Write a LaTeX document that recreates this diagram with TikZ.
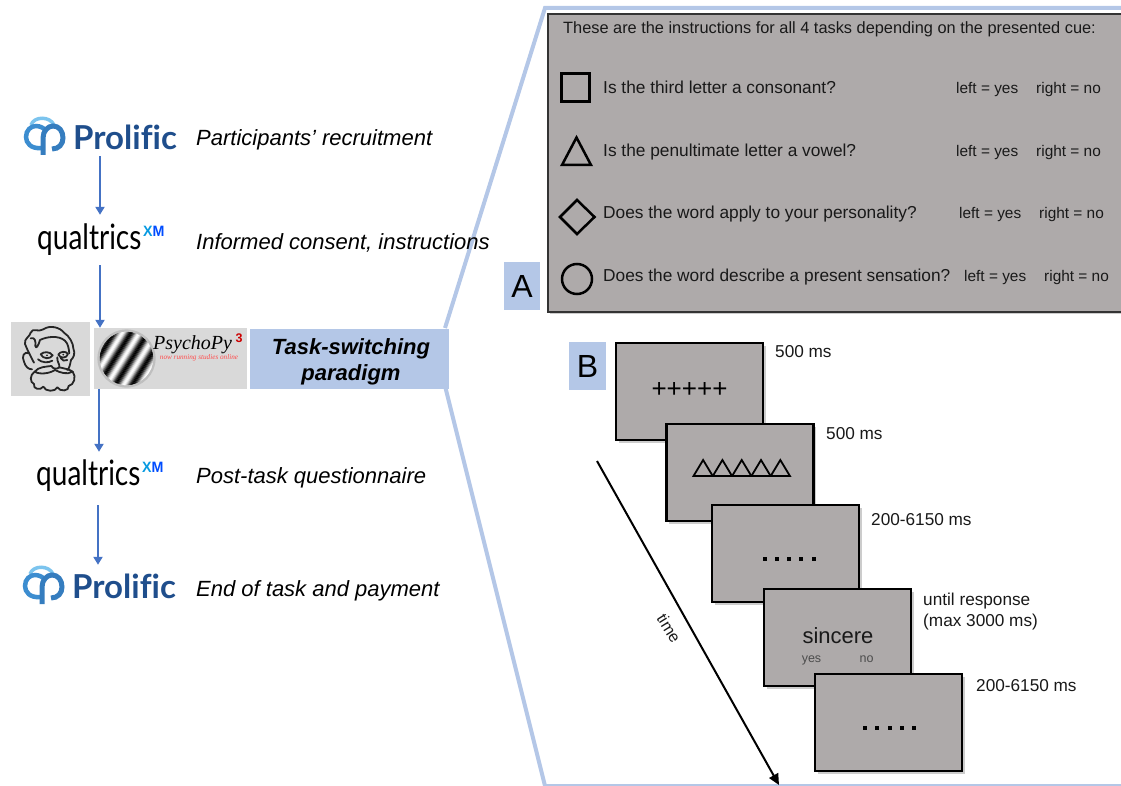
\documentclass[tikz,border=0pt]{standalone}
\usepackage{fontspec}
\usepackage{graphicx}
\setmainfont{Liberation Sans}
\newfontfamily\logofont{Lato}
\newfontfamily\pyfont{Liberation Serif}
\usetikzlibrary{arrows.meta,shadows}
\definecolor{panelgray}{HTML}{AEAAAA}
\definecolor{lightblue}{HTML}{B4C7E7}
\definecolor{flowblue}{HTML}{4472C4}
\definecolor{boxgray}{HTML}{D9D9D9}
\definecolor{prolificblue}{HTML}{1F4E8C}
\definecolor{prolificmid}{HTML}{3C8DD0}
\definecolor{prolificlight}{HTML}{7CC4EE}
\newcommand{\fsz}[1]{\fontsize{#1}{#1}\selectfont}
\tikzset{
  x=1pt,y=-1pt,
  flow/.style={draw=flowblue,line width=2.8pt,-{Triangle[width=9pt,length=8pt]}},
  fan/.style={draw=lightblue,line width=4pt,line join=miter},
  steplabel/.style={font=\fsz{22}\itshape,anchor=west,inner sep=0pt},
  logobox/.style={minimum width=110pt,inner sep=0pt},
  question/.style={font=\fsz{17.3},anchor=base west,inner sep=0pt,text=black!90},
  answer/.style={font=\fsz{15.4},anchor=base west,inner sep=0pt,text=black!90},
  timing/.style={font=\fsz{17.2},anchor=west,inner sep=0pt,text=black!90},
  screen/.style={draw=black,line width=2.6pt,fill=panelgray,minimum width=147pt,minimum height=97pt,inner sep=0pt,
     drop shadow={shadow xshift=2.5pt,shadow yshift=-2.5pt,fill=black!50,opacity=.4}},
  cue/.style={draw=black,line width=2.5pt,fill=none},
  letterbox/.style={fill=lightblue,inner sep=0pt,font=\fsz{32}},
  prologo/.style={inner sep=0pt,anchor=west,text=prolificblue,font=\logofont\bfseries\fsz{33}},
  qualogo/.style={inner sep=0pt,anchor=base west}
}
\newcommand{\qualtricslogo}{\scalebox{.8}[1]{\logofont\fsz{35}qualtrics}}
\begin{document}
\begin{tikzpicture}
\useasboundingbox (0,0) rectangle (1121,786);
% left column logo nodes
\node[logobox,minimum height=38pt] (pro1) at (100,137) {};
\node[logobox,minimum height=50pt] (qua1) at (100,240) {};
\node[logobox,minimum height=53pt] (qua2) at (99,478.5) {};
\node[logobox,minimum height=38pt] (pro2) at (98,584) {};
\node[fill=boxgray,minimum width=79pt,minimum height=74pt,inner sep=0pt] (face) at (50.5,359) {};
\node[fill=boxgray,minimum width=153pt,minimum height=61pt,inner sep=0pt] (psy) at (170.5,358.5) {};
\node[fill=lightblue,minimum width=199pt,minimum height=60pt,inner sep=0pt] (task) at (349.5,359) {};
\node[inner sep=0pt,font=\fsz{22}\bfseries\itshape] (task1) at (351,349) {Task-switching};
\node[inner sep=0pt,font=\fsz{22}\bfseries\itshape] (task2) at (351,374.5) {paradigm};

% fan lines from task box
\coordinate (fanA) at (445,328);
\coordinate (fanB) at (545,8);
\coordinate (fanC) at (1125,8);
\coordinate (fanD) at (445,386);
\coordinate (fanE) at (545,786);
\coordinate (fanF) at (1125,786);
\draw[fan] (fanA) -- (fanB) -- (fanC);
\draw[fan] (fanD) -- (fanE) -- (fanF);

% Prolific logos
\foreach \px/\py in {25/118,24/567}{
  \begin{scope}[shift={(\px,\py)}]
    \draw[prolificlight,line width=3.5pt] (6,7) .. controls (9,-2) and (25,-2) .. (29,7);
    \draw[prolificmid,line width=4.5pt] (16,30) .. controls (6,31) and (1,25) .. (1,19) .. controls (1,12) and (6,8) .. (11,8) .. controls (15,8) and (19,10) .. (21,13);
    \draw[prolificmid!75!prolificblue,line width=5pt] (18,37) -- (18,20) .. controls (18,13) and (23,8) .. (28,8) .. controls (34,8) and (38,13) .. (38,20) .. controls (38,26) and (34,31) .. (27,31);
  \end{scope}
}
\node[prologo] (pt1) at (73,137) {Prolif\kern0pt ic};
\node[prologo] (pt2) at (72,586) {Prolif\kern0pt ic};

% Qualtrics logos
\node[qualogo] (qt1) at (37,250) {\qualtricslogo};
\node[qualogo] (qt2) at (36,485) {\qualtricslogo};
\foreach \qx/\qy in {143/237,142/472}{
  \node[inner sep=0pt,anchor=base west,font=\bfseries\fsz{15}] at (\qx,\qy) {\scalebox{.95}[1]{\textcolor{cyan!85!blue}{X}\textcolor{blue!70!cyan}{M}}};
}

% flow
\draw[flow] (pro1.south) -- (qua1.north);
\draw[flow] (qua1.south) -- (qua1.south |- psy.north);
\draw[flow] (qua2.north |- psy.south) -- (qua2.north);
\draw[flow] (qua2.south -| pro2.north) -- (pro2.north);

% step labels
\node[steplabel] (l1) at (196,140) {Participants’ recruitment};
\node[steplabel] (l2) at (196,243) {Informed consent, instructions};
\node[steplabel] (l3) at (196,478) {Post-task questionnaire};
\node[steplabel] (l4) at (196,591) {End of task and payment};

% face
\begin{scope}[shift={(10,320)},x=.3333pt,y=-.3333pt,line width=1.8pt,black!85,line cap=round,line join=round]
  % hair and head
  \draw (72,128) .. controls (62,110) and (50,85) .. (45,72) .. controls (42,55) and (60,50) .. (62,38)
     .. controls (68,22) and (85,38) .. (100,28) .. controls (120,14) and (150,22) .. (162,38)
     .. controls (178,48) and (190,70) .. (190,85) .. controls (196,100) and (192,112) .. (183,120)
     .. controls (180,135) and (178,145) .. (172,150);
  \draw (62,55) .. controls (75,50) and (78,65) .. (76,78) .. controls (78,88) and (85,78) .. (90,60) .. controls (110,50) and (145,45) .. (165,62) .. controls (175,72) and (176,85) .. (178,100);
  % ear
  \draw (58,100) .. controls (42,92) and (34,110) .. (42,125) .. controls (46,140) and (55,148) .. (66,148);
  % eyes
  \draw (92,103) .. controls (100,94) and (120,94) .. (128,106) .. controls (120,118) and (100,118) .. (92,103);
  \draw (145,104) .. controls (150,94) and (168,92) .. (174,102) .. controls (170,116) and (150,116) .. (145,104);
  \fill (111,106) circle (3); \fill (160,104) circle (3);
  \draw (84,118) .. controls (95,128) and (115,130) .. (127,122);
  % nose
  \draw (142,112) .. controls (140,125) and (150,132) .. (148,142) .. controls (140,148) and (130,148) .. (124,138);
  \draw (172,120) .. controls (165,125) and (155,122) .. (152,114);
  % moustache
  \draw (124,138) .. controls (110,140) and (85,140) .. (74,155) .. controls (90,165) and (120,160) .. (135,150)
     .. controls (150,158) and (172,165) .. (188,155) .. controls (180,148) and (160,145) .. (148,142);
  % beard
  \draw (74,155) .. controls (58,165) and (60,188) .. (72,192) .. controls (68,208) and (92,212) .. (100,200)
     .. controls (106,216) and (136,216) .. (142,202) .. controls (150,216) and (178,214) .. (176,198)
     .. controls (192,195) and (200,170) .. (188,155);
\end{scope}

% psychopy
\begin{scope}
  \clip (126.5,358.5) circle (27);
  \begin{scope}[rotate around={-32:(126.5,358.5)}]
    \foreach \k in {0,...,70}{
      \pgfmathsetmacro{\gv}{50+50*sin(\k*25)}
      \fill[white!\gv!black] (91+\k,320) rectangle ++(1.2,80);
    }
  \end{scope}
\end{scope}
\draw[black!25,line width=2.2pt] (126.5,358.5) circle (28);
\node[inner sep=0pt,anchor=base west,font=\pyfont\itshape\fsz{20}] (pytext) at (153,349) {PsychoPy};
\node[inner sep=0pt,anchor=base west,font=\bfseries\fsz{12.5},text=red!80!black] (py3) at (235.5,342) {3};
\node[inner sep=0pt,font=\pyfont\itshape\fsz{7.2},text=red!70] (pysub) at (199,358) {now running studies online};

% panel A
\path[draw=black!80,line width=1.6pt,fill=panelgray,
  drop shadow={shadow xshift=2pt,shadow yshift=-2pt,fill=black!50,opacity=.4}] (548,14) rectangle (1135,312);
\node[inner sep=0pt,anchor=west,font=\fsz{16.35},text=black!90] (head) at (563,29) {These are the instructions for all 4 tasks depending on the presented cue:};
\draw[cue] (561.3,73.3) rectangle (589.7,101.7);
\draw[cue] (576.5,137.5) -- (591,165) -- (562,165) -- cycle;
\draw[cue] (577,200) -- (594.5,217) -- (577,234) -- (560,217) -- cycle;
\draw[cue] (577,279) circle (15);
\node[question] (q1) at (603,94) {Is the third letter a consonant?};
\node[question] (q2) at (603,156.5) {Is the penultimate letter a vowel?};
\node[question] (q3) at (603,219) {Does the word apply to your personality?};
\node[question] (q4) at (603,281) {Does the word describe a present sensation?};
\foreach \yy/\xl/\xr in {94/956/1036,157/956/1036,219/959/1039,281/964/1044}{
  \node[answer] at (\xl,\yy) {left = yes};
  \node[answer] at (\xr,\yy) {right = no};
}
\node[letterbox,minimum width=36pt,minimum height=48pt] (A) at (522,286) {A};
\node[letterbox,minimum width=37pt,minimum height=48pt] (B) at (587.5,366) {B};

% screens
\node[screen] (s1) at (689.5,391.5) {};
\node[screen] (s2) at (740,472.5) {};
\node[screen] (s3) at (785.5,553.5) {};
\node[screen] (s4) at (837.5,637.5) {};
\node[screen] (s5) at (888.5,722.5) {};
\node[inner sep=0pt,font=\fsz{26}] (plus) at (689.5,390) {+++++};
\foreach \k in {0,...,4}{
  \draw[black,line width=1.8pt,line join=miter] (693.5+\k*19.3,476) -- ++(9.6,-16) -- ++(9.6,16) -- cycle;
}
\foreach \k in {0,...,4}{
  \fill[black] (762.5+\k*12.3,557) rectangle ++(4,4);
  \fill[black] (863+\k*12.3,726) rectangle ++(4,4);
}
\node[inner sep=0pt,font=\fsz{22},text=black!90] (word) at (838,636) {sincere};
\node[inner sep=0pt,font=\fsz{12.5},text=black!70,anchor=base] (yes) at (811.5,662) {yes};
\node[inner sep=0pt,font=\fsz{12.5},text=black!70,anchor=base] (no) at (866.5,662) {no};
\node[timing] at (775,351.5) {500 ms};
\node[timing] at (826,434) {500 ms};
\node[timing] at (871,520) {200-6150 ms};
\node[timing] at (923,601) {until response};
\node[timing] at (923,622) {(max 3000 ms)};
\node[timing] at (976,686) {200-6150 ms};
\coordinate (t0) at (597,461);
\coordinate (t1) at (779,785);
\draw[black,line width=2pt,-{Triangle[width=10pt,length=11pt]}] (t0) -- (t1);
\node[inner sep=0pt,font=\fsz{16},rotate=-58,text=black!90] (time) at (669,628) {time};
\end{tikzpicture}
\end{document}
